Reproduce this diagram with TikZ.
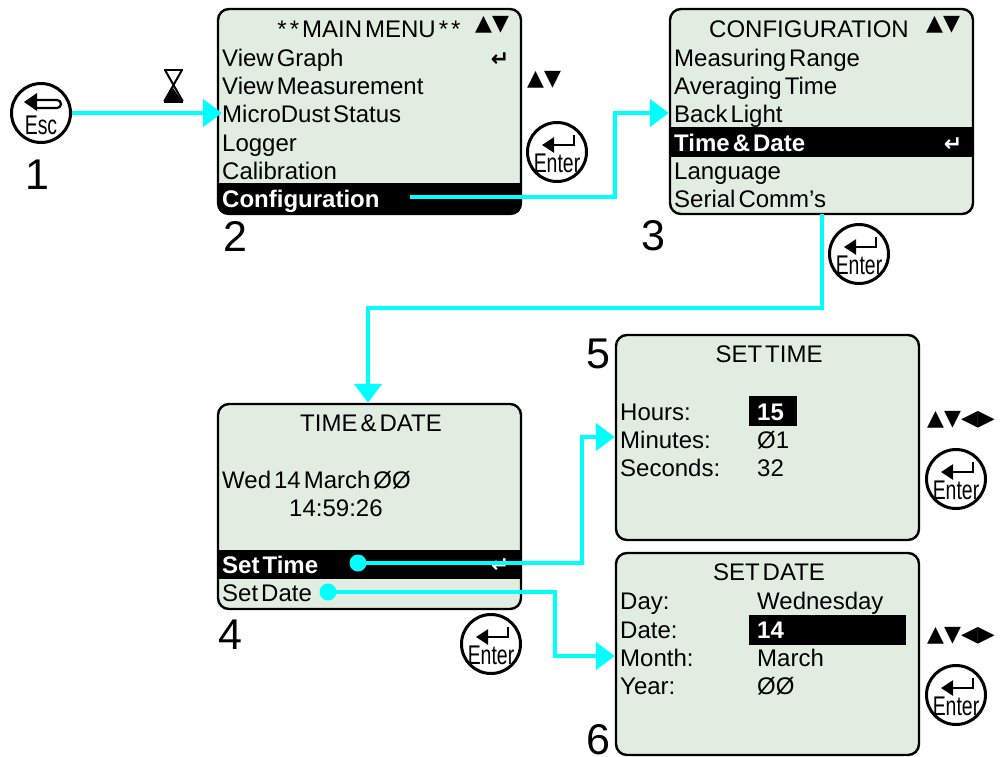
\documentclass[tikz,border=0pt]{standalone}
\usepackage{fontspec}
\usepackage{amsmath}
\usetikzlibrary{arrows.meta,shapes.geometric}
\setmainfont[WordSpace=0.45]{Liberation Sans}
\newfontfamily\keyfont[FakeStretch=0.72]{Liberation Sans}
\newfontfamily\symfont{DejaVu Sans}
\definecolor{lcdgreen}{RGB}{225,237,224}
\definecolor{flowcyan}{RGB}{0,255,255}

\tikzset{
  enterkey/.pic={
    \node[keydisc] (-disc) at (0,0) {};
    \node[keytext] (-text) at (0,11) {Enter};
    \draw[line width=2.4pt,-{Triangle[length=12pt,width=15pt]}] (17,-17) -- (17,-7) -- (-15,-7);
  },
  esckey/.pic={
    \node[keydisc] (-disc) at (0,0) {};
    \node[keytext] (-text) at (0,12) {Esc};
    \draw[line width=2.2pt,rounded corners=4pt] (-4,-13) -- (20,-13) -- (20,-5) -- (-4,-5);
    \fill (-17,-11) -- (-4,-20) -- (-4,-2) -- cycle;
  }
}

\begin{document}
\begin{tikzpicture}[x=1pt,y=-1pt]

%
% Styles
%
\tikzstyle{screen}  = [draw=black,fill=lcdgreen,line width=2.4pt,rounded corners=11pt,
                       minimum width=303pt,minimum height=205pt,inner sep=0pt]
\tikzstyle{rowtext} = [anchor=base west,inner sep=0pt,font=\fontsize{24}{24}\selectfont]
\tikzstyle{seltext} = [rowtext,text=white,font=\fontsize{24}{24}\selectfont\bfseries]
\tikzstyle{title}   = [anchor=base,inner sep=0pt,font=\fontsize{24}{24}\selectfont]
\tikzstyle{band}    = [fill=black,inner sep=0pt]
\tikzstyle{number}  = [inner sep=0pt,font=\fontsize{43}{43}\selectfont]
\tikzstyle{keydisc} = [circle,draw=black,fill=white,line width=3pt,minimum size=59pt,inner sep=0pt]
\tikzstyle{keytext} = [inner sep=0pt,font=\keyfont\fontsize{27}{27}\selectfont]
\tikzstyle{marks}   = [inner sep=0pt,font=\symfont\fontsize{22}{22}\selectfont]
\tikzstyle{ret}     = [inner sep=0pt,font=\symfont\bfseries\fontsize{22}{22}\selectfont]
\tikzstyle{dotmark} = [circle,fill=flowcyan,minimum size=17pt,inner sep=0pt]
\tikzstyle{flow}    = [draw=flowcyan,line width=4.5pt,-{Triangle[length=19pt,width=27pt]}]
\tikzstyle{plain}   = [draw=flowcyan,line width=4.5pt]

\useasboundingbox (0,0) rectangle (1002,756);

%
% Screens
%
\node[screen] (mainmenu) at (369.5,111.5) {};
\node[screen] (config)   at (821.5,111.5) {};
\node[screen] (timedate) at (369.5,506.5) {};
\node[screen] (settime)  at (767.5,437.5) {};
\node[screen,minimum height=202pt] (setdate) at (767.5,654) {};

\begin{scope}
  \clip[rounded corners=8pt] (218,9) rectangle (521,214);
  \fill (218,183) rectangle (521,214);
\end{scope}
\node[band,minimum width=303pt,minimum height=30pt] (timeband) at (821.5,142) {};
\node[band,minimum width=303pt,minimum height=29pt] (setband)  at (369.5,564.5) {};
\node[band,minimum width=48pt,minimum height=30pt]  (hourband) at (773,411) {};
\node[band,minimum width=157pt,minimum height=30pt] (dateband) at (827.5,630) {};

%
% Main menu
%
\node[title] (mainhead) at (369,37) {* * MAIN MENU * *};
\node[rowtext] (viewgraph)  at (222,66)  {View Graph};
\node[rowtext] (viewmeas)   at (222,94)  {View Measurement};
\node[rowtext] (microdust)  at (222,122) {MicroDust Status};
\node[rowtext] (logger)     at (222,151) {Logger};
\node[rowtext] (calib)      at (222,179) {Calibration};
\node[seltext] (configrow)  at (222,207) {Configuration};

%
% Configuration
%
\node[title] (confighead) at (809,37) {CONFIGURATION};
\node[rowtext] (range)     at (674,66)  {Measuring Range};
\node[rowtext] (averaging) at (674,94)  {Averaging Time};
\node[rowtext] (backlight) at (674,122) {Back Light};
\node[seltext] (timerow)   at (674,151) {Time \& Date};
\node[rowtext] (language)  at (674,179) {Language};
\node[rowtext] (serial)    at (674,207) {Serial Comm's};

%
% Time and date
%
\node[title] (timehead) at (371,431) {TIME \& DATE};
\node[rowtext] (nowdate)  at (222,488) {Wed 14 March ØØ};
\node[rowtext] (nowtime)  at (289,516) {14:59:26};
\node[seltext] (settimerow) at (222,573) {Set Time};
\node[rowtext] (setdaterow) at (222,601) {Set Date};

%
% Set time
%
\node[title] (settimehead) at (769,362) {SET TIME};
\node[rowtext] (hours)   at (620,420) {Hours:};
\node[rowtext] (minutes) at (620,448) {Minutes:};
\node[rowtext] (seconds) at (620,476) {Seconds:};
\node[seltext] (hourval) at (757,420) {15};
\node[rowtext] (minval)  at (757,448) {Ø1};
\node[rowtext] (secval)  at (757,476) {32};

%
% Set date
%
\node[title] (setdatehead) at (769,580) {SET DATE};
\node[rowtext] (day)      at (620,609) {Day:};
\node[rowtext] (date)     at (620,638) {Date:};
\node[rowtext] (month)    at (620,666) {Month:};
\node[rowtext] (year)     at (620,694) {Year:};
\node[rowtext] (dayval)   at (757,609) {Wednesday};
\node[seltext] (dateval)  at (757,638) {14};
\node[rowtext] (monthval) at (757,666) {March};
\node[rowtext] (yearval)  at (757,694) {ØØ};

%
% Step numbers
%
\node[number] (one)   at (37,175)  {1};
\node[number] (two)   at (235,236) {2};
\node[number] (three) at (653,236) {3};
\node[number] (four)  at (230,635) {4};
\node[number] (five)  at (598,354) {5};
\node[number] (six)   at (598,740) {6};

%
% Key marks
%
\node[marks] (mainmarks)   at (492,25)  {▲▼};
\node[marks] (sidemarks)   at (544,80)  {▲▼};
\node[marks] (configmarks) at (943,25)  {▲▼};
\node[marks] (timemarks)   at (961,420) {▲▼◀▶};
\node[marks] (datemarks)   at (961,636) {▲▼◀▶};
\node[ret] (mainret) at (500,60)  {↵};
\node[ret,text=white] (timeret) at (953,145) {↵};
\node[ret,text=white] (setret)  at (500,566) {↵};

\pic (esc)    at (41,113)  {esckey};
\pic (enter2) at (557,152) {enterkey};
\pic (enter3) at (859,254) {enterkey};
\pic (enter4) at (491,644) {enterkey};
\pic (enter5) at (956,479) {enterkey};
\pic (enter6) at (956,695) {enterkey};

%
% Hourglass
%
\draw[line width=2pt,fill=white] (164,70) -- (183,70) (164,102) -- (183,102);
\draw[line width=2pt] (165,70) -- (182,100) -- (165,100) -- (182,70);
\fill (173,88) -- (182,101) -- (165,101) -- cycle;

%
% Connectors
%
\coordinate (configstart) at (410,197);
\coordinate (serialstart) at (822,214);
\node[dotmark] (timedot) at (358,563) {};
\node[dotmark] (datedot) at (328,592) {};

\draw[flow] (esc-disc) -- (microdust.west |- esc-disc);
\draw[flow] (configstart) -- (615,197) |- (config.west |- 0,113);
\draw[flow] (serialstart) -- (822,308) -- (368,308) -- (timedate.north -| 368,0);
\draw[flow] (timedot.center) -- (582,563) |- (settime.west |- 0,437);
\draw[flow] (datedot.center) -- (555,592) |- (setdate.west |- 0,656);

\end{tikzpicture}
\end{document}
